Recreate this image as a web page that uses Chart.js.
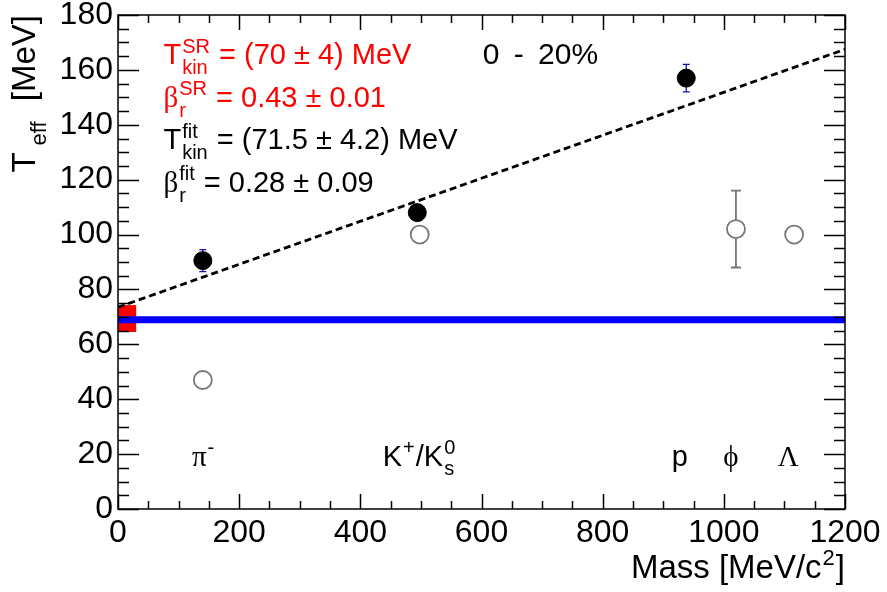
<!DOCTYPE html>
<html lang="en">

<head>
    <meta charset="UTF-8">
    <title>Teff vs Mass</title>
    <script src="https://cdn.jsdelivr.net/npm/chart.js"></script>
    <style>
        body { margin: 0; background: #fff; }
        .chart-container { width: 887px; height: 592px; }
    </style>
</head>

<body>
    <div class="chart-container">
        <canvas id="teffChart"></canvas>
    </div>
    <script>
        // axis ranges / ticks
        const xMin = 0, xMax = 1200, xMajor = 200, xMinor = 50;
        const yMin = 0, yMax = 180, yMajor = 20, yMinor = 5;

        // filled markers (fit input), blue error bars
        const fitMass = [140, 494, 938];
        const fitTeff = [90.5, 108, 157];
        const fitErr = [4, 1, 5];

        // open markers
        const openMass = [140, 498, 1020, 1116];
        const openTeff = [47, 100, 102, 100];
        const openErr = [0, 0, 14, 0];

        // linear fit (dashed)
        const fitLineMass = [0, 1200];
        const fitLineTeff = [73.5, 167.5];

        // T_kin^SR band
        const srTeff = 69;
        const srBoxMass = [0, 30];
        const srBoxTeff = [64.5, 74.3];

        // annotations: [x, y, colour, pieces]
        const infoLines = [
            [75, 162, 'red', [{ t: 'T' }, { sup: 'SR', sub: 'kin' }, { t: ' = (70 ± 4) MeV' }]],
            [75, 146.5, 'red', [{ t: 'β', greek: true }, { sup: 'SR', sub: 'r' }, { t: ' = 0.43 ± 0.01' }]],
            [75, 131, 'black', [{ t: 'T' }, { sup: 'fit', sub: 'kin' }, { t: ' = (71.5 ± 4.2) MeV' }]],
            [75, 115.5, 'black', [{ t: 'β', greek: true }, { sup: 'fit', sub: 'r' }, { t: ' = 0.28 ± 0.09' }]]
        ];
        const centralityLabel = [602, 162, '0 - 20%'];
        const particleLabels = [
            [122, 15.7, [{ t: 'π', greek: true }, { sup: '-' }]],
            [437, 15.7, [{ t: 'K' }, { sup: '+' }, { t: '/K' }, { sup: '0', sub: 's' }]],
            [914, 15.7, [{ t: 'p' }]],
            [999, 15.7, [{ t: 'ϕ', greek: true }]],
            [1089, 15.7, [{ t: 'Λ', greek: true }]]
        ];

        const SANS = '"Liberation Sans", Arial, sans-serif';
        const SERIF = '"Liberation Serif", "Times New Roman", serif';

        function drawRich(ctx, pieces, x, y, size, colour, gap, pre) {
            gap = gap || 1;
            pre = pre || 1;
            ctx.fillStyle = colour;
            ctx.textBaseline = 'alphabetic';
            ctx.textAlign = 'left';
            const small = Math.round(size * 0.68);
            let cx = x;
            pieces.forEach(p => {
                if (p.t !== undefined) {
                    ctx.font = size + 'px ' + (p.greek ? SERIF : SANS);
                    ctx.fillText(p.t, cx, y);
                    cx += ctx.measureText(p.t).width;
                } else {
                    ctx.font = small + 'px ' + SANS;
                    let w = 0;
                    if (p.sup) {
                        ctx.fillText(p.sup, cx + pre, y - size * 0.4);
                        w = Math.max(w, ctx.measureText(p.sup).width);
                    }
                    if (p.sub) {
                        ctx.fillText(p.sub, cx + pre, y + size * 0.33);
                        w = Math.max(w, ctx.measureText(p.sub).width);
                    }
                    cx += pre + w + gap;
                }
            });
            return cx - x;
        }

        function richWidth(ctx, pieces, size, gap, pre) {
            gap = gap || 1;
            pre = pre || 1;
            const small = Math.round(size * 0.68);
            let w = 0;
            pieces.forEach(p => {
                if (p.t !== undefined) {
                    ctx.font = size + 'px ' + (p.greek ? SERIF : SANS);
                    w += ctx.measureText(p.t).width;
                } else {
                    ctx.font = small + 'px ' + SANS;
                    w += pre + Math.max(p.sup ? ctx.measureText(p.sup).width : 0, p.sub ? ctx.measureText(p.sub).width : 0) + gap;
                }
            });
            return w;
        }

        const rootStyle = {
            id: 'rootStyle',
            beforeDatasetsDraw(chart) {
                const ctx = chart.ctx, xs = chart.scales.x, ys = chart.scales.y;
                ctx.save();
                // SR box
                ctx.fillStyle = '#ff0000';
                const bx0 = xs.getPixelForValue(srBoxMass[0]), bx1 = xs.getPixelForValue(srBoxMass[1]);
                const by0 = ys.getPixelForValue(srBoxTeff[1]), by1 = ys.getPixelForValue(srBoxTeff[0]);
                ctx.fillRect(bx0, by0, bx1 - bx0, by1 - by0);
                // error bars
                function bars(mass, teff, err, colour, cap, lw) {
                    ctx.strokeStyle = colour;
                    ctx.lineWidth = lw;
                    mass.forEach((m, i) => {
                        if (!err[i]) return;
                        const px = xs.getPixelForValue(m);
                        const t = ys.getPixelForValue(teff[i] + err[i]);
                        const b = ys.getPixelForValue(teff[i] - err[i]);
                        ctx.beginPath();
                        ctx.moveTo(px, t); ctx.lineTo(px, b);
                        ctx.moveTo(px - cap, t); ctx.lineTo(px + cap, t);
                        ctx.moveTo(px - cap, b); ctx.lineTo(px + cap, b);
                        ctx.stroke();
                    });
                }
                bars(fitMass, fitTeff, fitErr, '#1010b0', 3.5, 1.3);
                bars(openMass, openTeff, openErr, '#777777', 5, 1.8);
                ctx.restore();
            },
            afterDraw(chart) {
                const ctx = chart.ctx, xs = chart.scales.x, ys = chart.scales.y;
                const a = chart.chartArea;
                ctx.save();
                ctx.strokeStyle = '#000';
                ctx.lineWidth = 1.5;
                ctx.strokeRect(a.left, a.top, a.right - a.left, a.bottom - a.top);
                ctx.beginPath();
                for (let v = xMin; v <= xMax; v += xMinor) {
                    const px = Math.round(xs.getPixelForValue(v)) + 0.5;
                    const len = v % xMajor === 0 ? 15 : 8;
                    ctx.moveTo(px, a.bottom); ctx.lineTo(px, a.bottom - len);
                    ctx.moveTo(px, a.top); ctx.lineTo(px, a.top + len);
                }
                for (let v = yMin; v <= yMax; v += yMinor) {
                    const py = Math.round(ys.getPixelForValue(v)) + 0.5;
                    const len = v % yMajor === 0 ? 21 : 11;
                    ctx.moveTo(a.left, py); ctx.lineTo(a.left + len, py);
                    ctx.moveTo(a.right, py); ctx.lineTo(a.right - len, py);
                }
                ctx.stroke();

                // annotations
                infoLines.forEach(([x, y, c, pieces]) => {
                    drawRich(ctx, pieces, xs.getPixelForValue(x), ys.getPixelForValue(y), 29, c);
                });
                ctx.font = '30px ' + SANS;
                ctx.fillStyle = '#000';
                ctx.wordSpacing = '6px';
                ctx.fillText(centralityLabel[2], xs.getPixelForValue(centralityLabel[0]), ys.getPixelForValue(centralityLabel[1]));
                ctx.wordSpacing = '0px';
                particleLabels.forEach(([x, y, pieces]) => {
                    drawRich(ctx, pieces, xs.getPixelForValue(x), ys.getPixelForValue(y), 29, '#000');
                });

                // x title, right aligned to the frame
                const xTitle = [{ t: 'Mass [MeV/c' }, { sup: '2' }, { t: ']' }];
                const xw = richWidth(ctx, xTitle, 33);
                drawRich(ctx, xTitle, a.right - xw, 578, 33, '#000');

                // y title, rotated, top aligned to the frame
                const yTitle = [{ t: 'T' }, { sub: 'eff' }, { t: ' [MeV]' }];
                const yw = richWidth(ctx, yTitle, 33, 11, 7);
                ctx.translate(35, a.top + yw);
                ctx.rotate(-Math.PI / 2);
                drawRich(ctx, yTitle, 0, 0, 33, '#000', 11, 7);
                ctx.restore();
            }
        };

        const ctx = document.getElementById('teffChart').getContext('2d');
        const chart = new Chart(ctx, {
            type: 'scatter',
            data: {
                datasets: [
                    {
                        label: 'fit points',
                        data: fitMass.map((m, i) => ({ x: m, y: fitTeff[i] })),
                        pointRadius: 9,
                        pointBackgroundColor: '#000',
                        pointBorderColor: '#000',
                        pointBorderWidth: 1,
                        order: 1
                    },
                    {
                        label: 'other points',
                        data: openMass.map((m, i) => ({ x: m, y: openTeff[i] })),
                        pointRadius: 9,
                        pointBackgroundColor: '#fff',
                        pointBorderColor: '#777',
                        pointBorderWidth: 1.8,
                        order: 2
                    },
                    {
                        label: 'linear fit',
                        data: fitLineMass.map((m, i) => ({ x: m, y: fitLineTeff[i] })),
                        showLine: true,
                        borderColor: '#000',
                        borderWidth: 2.8,
                        borderDash: [7, 4],
                        pointRadius: 0,
                        order: 4
                    },
                    {
                        label: 'T SR',
                        data: [{ x: xMin, y: srTeff }, { x: xMax, y: srTeff }],
                        showLine: true,
                        borderColor: '#0000ff',
                        borderWidth: 7,
                        pointRadius: 0,
                        order: 3
                    }
                ]
            },
            options: {
                responsive: true,
                maintainAspectRatio: false,
                animation: false,
                events: [],
                layout: { padding: { top: 15, right: 42, left: 0, bottom: 0 } },
                plugins: {
                    legend: { display: false },
                    tooltip: { enabled: false }
                },
                scales: {
                    x: {
                        type: 'linear',
                        min: xMin,
                        max: xMax,
                        grid: { display: false, drawTicks: false },
                        border: { display: false },
                        ticks: {
                            stepSize: xMajor,
                            padding: 5,
                            color: '#000',
                            maxRotation: 0,
                            font: { family: SANS, size: 32 },
                            callback: v => String(v)
                        },
                        afterFit(scale) {
                            scale.height = 83;
                            scale.paddingLeft = 0;
                            scale.paddingRight = 0;
                        }
                    },
                    y: {
                        type: 'linear',
                        min: yMin,
                        max: yMax,
                        grid: { display: false, drawTicks: false },
                        border: { display: false },
                        ticks: {
                            stepSize: yMajor,
                            padding: 5,
                            color: '#000',
                            font: { family: SANS, size: 32 },
                            callback: v => String(v)
                        },
                        afterFit(scale) {
                            scale.width = 118;
                            scale.paddingTop = 0;
                            scale.paddingBottom = 0;
                        }
                    }
                }
            },
            plugins: [rootStyle]
        });
    </script>
</body>

</html>
